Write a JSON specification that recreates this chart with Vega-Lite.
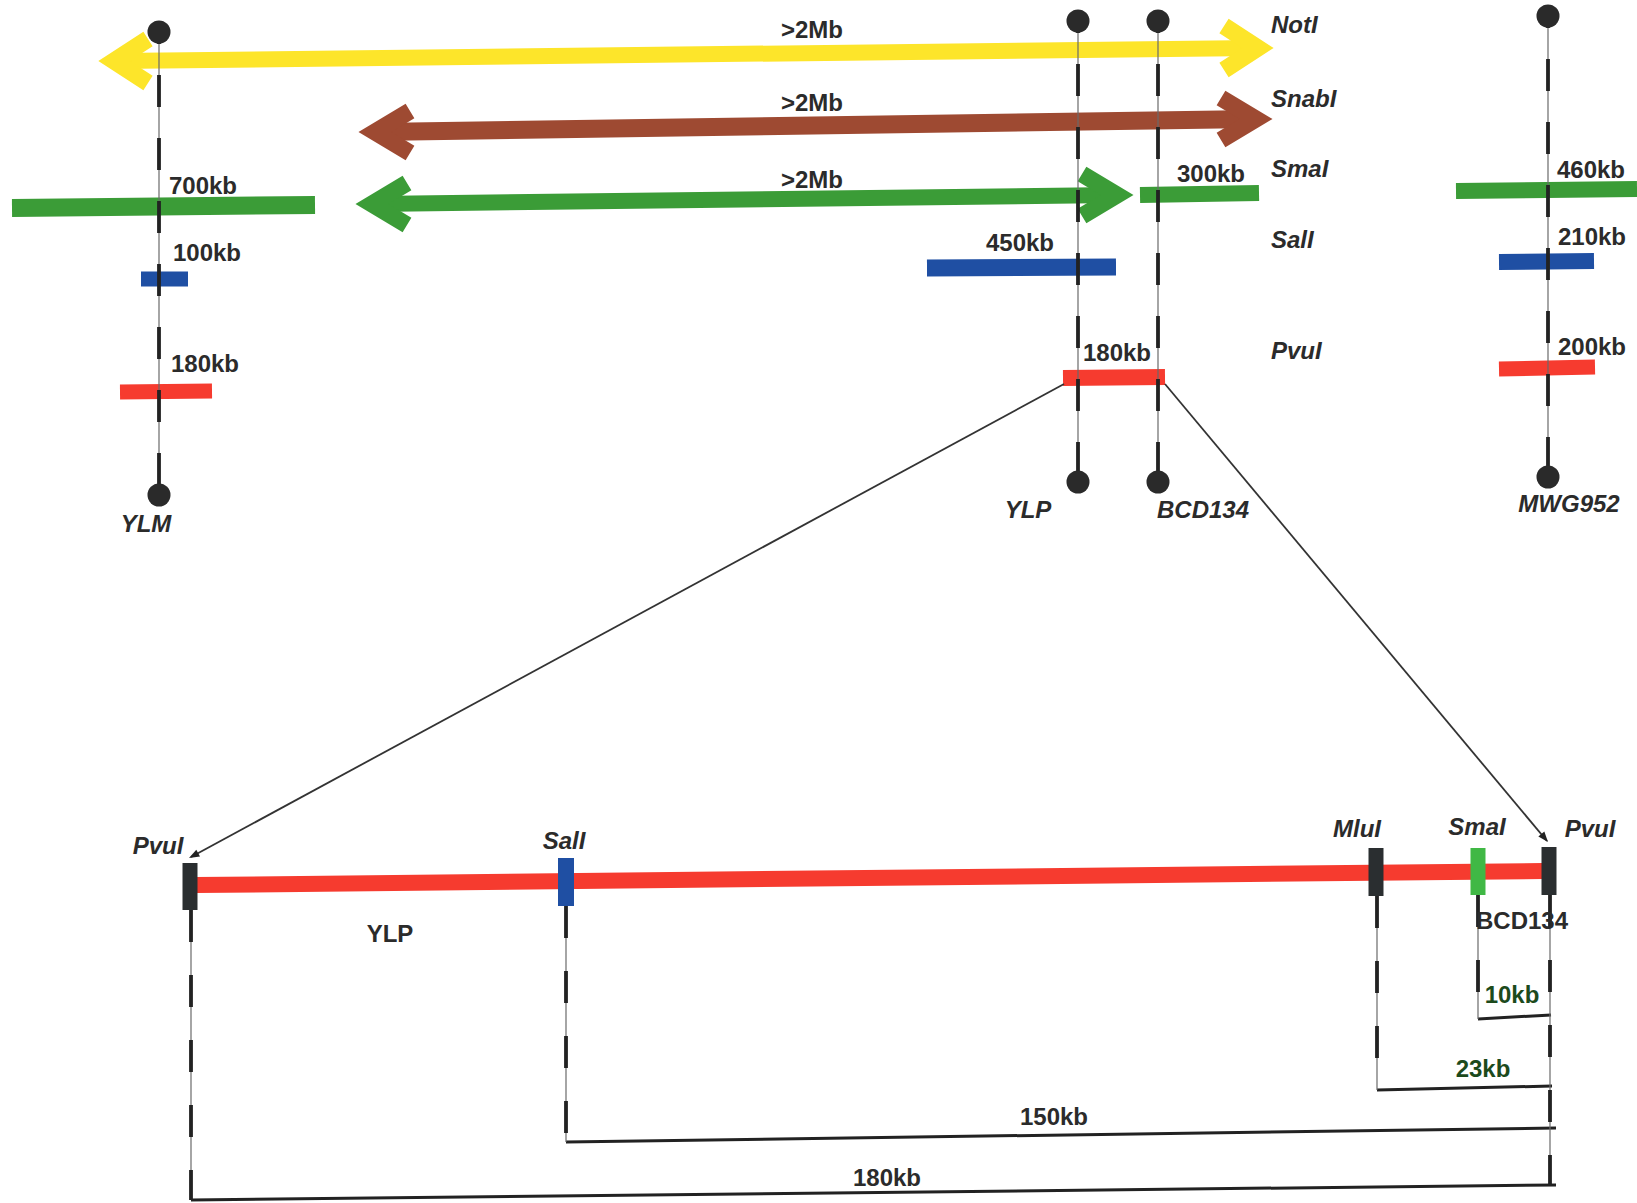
{
  "$schema": "https://vega.github.io/schema/vega-lite/v6.json",
  "width": 1637,
  "height": 1203,
  "padding": 0,
  "autosize": {"type": "none"},
  "background": "white",
  "config": {"view": {"stroke": null}, "axis": {"disable": true}},
  "datasets": {
    "segs": [
      {"x": 12, "y": 208, "x2": 315, "y2": 205, "c": "#3b9c37", "w": 18},
      {"x": 1140, "y": 195, "x2": 1259, "y2": 193, "c": "#3b9c37", "w": 16},
      {"x": 1456, "y": 191, "x2": 1637, "y2": 189, "c": "#3b9c37", "w": 16},
      {"x": 141, "y": 279, "x2": 188, "y2": 279, "c": "#1f4fa3", "w": 15},
      {"x": 927, "y": 268, "x2": 1116, "y2": 267, "c": "#1f4fa3", "w": 17},
      {"x": 1499, "y": 262, "x2": 1594, "y2": 261, "c": "#1f4fa3", "w": 16},
      {"x": 120, "y": 392, "x2": 212, "y2": 391, "c": "#f63b2f", "w": 15},
      {"x": 1063, "y": 378, "x2": 1165, "y2": 377, "c": "#f63b2f", "w": 16},
      {"x": 1499, "y": 369, "x2": 1595, "y2": 367, "c": "#f63b2f", "w": 15},
      {"x": 116, "y": 61, "x2": 1256, "y2": 48, "c": "#fde52a", "w": 16},
      {"x": 377, "y": 132, "x2": 1254, "y2": 119, "c": "#9e4a32", "w": 18},
      {"x": 374, "y": 204, "x2": 1115, "y2": 195, "c": "#3b9c37", "w": 16},
      {"x": 196, "y": 885, "x2": 1543, "y2": 871, "c": "#f63b2f", "w": 16},
      {"x": 190, "y": 863, "x2": 190, "y2": 910, "c": "#2a2e30", "w": 15},
      {"x": 566, "y": 858, "x2": 566, "y2": 906, "c": "#1f4fa3", "w": 16},
      {"x": 1376, "y": 848, "x2": 1376, "y2": 896, "c": "#2a2e30", "w": 15},
      {"x": 1478, "y": 848, "x2": 1478, "y2": 895, "c": "#40b845", "w": 15},
      {"x": 1549, "y": 847, "x2": 1549, "y2": 895, "c": "#2a2e30", "w": 15},
      {"x": 1064, "y": 384, "x2": 191, "y2": 857, "c": "#333333", "w": 1.8},
      {"x": 1165, "y": 384, "x2": 1547, "y2": 841, "c": "#333333", "w": 1.8},
      {"x": 1478, "y": 1019, "x2": 1551, "y2": 1015, "c": "#222222", "w": 3},
      {"x": 1377, "y": 1090, "x2": 1552, "y2": 1086, "c": "#222222", "w": 3},
      {"x": 566, "y": 1142, "x2": 1556, "y2": 1128, "c": "#222222", "w": 3},
      {"x": 191, "y": 1200, "x2": 1556, "y2": 1185, "c": "#222222", "w": 3}
    ],
    "heads": [
      {"id": "yl", "o": 1, "x": 148, "y": 39, "c": "#fde52a"},
      {"id": "yl", "o": 2, "x": 114, "y": 61, "c": "#fde52a"},
      {"id": "yl", "o": 3, "x": 148, "y": 83, "c": "#fde52a"},
      {"id": "yr", "o": 1, "x": 1224, "y": 26, "c": "#fde52a"},
      {"id": "yr", "o": 2, "x": 1258, "y": 48, "c": "#fde52a"},
      {"id": "yr", "o": 3, "x": 1224, "y": 70, "c": "#fde52a"},
      {"id": "bl", "o": 1, "x": 410, "y": 111, "c": "#9e4a32"},
      {"id": "bl", "o": 2, "x": 375, "y": 132, "c": "#9e4a32"},
      {"id": "bl", "o": 3, "x": 410, "y": 153, "c": "#9e4a32"},
      {"id": "br", "o": 1, "x": 1221, "y": 98, "c": "#9e4a32"},
      {"id": "br", "o": 2, "x": 1256, "y": 119, "c": "#9e4a32"},
      {"id": "br", "o": 3, "x": 1221, "y": 140, "c": "#9e4a32"},
      {"id": "gl", "o": 1, "x": 407, "y": 183, "c": "#3b9c37"},
      {"id": "gl", "o": 2, "x": 372, "y": 204, "c": "#3b9c37"},
      {"id": "gl", "o": 3, "x": 407, "y": 225, "c": "#3b9c37"},
      {"id": "gr", "o": 1, "x": 1082, "y": 174, "c": "#3b9c37"},
      {"id": "gr", "o": 2, "x": 1117, "y": 195, "c": "#3b9c37"},
      {"id": "gr", "o": 3, "x": 1082, "y": 216, "c": "#3b9c37"}
    ],
    "vlines": [
      {"x": 159, "y": 32, "y2": 495, "g": "top"},
      {"x": 1078, "y": 21, "y2": 482, "g": "top"},
      {"x": 1158, "y": 21, "y2": 482, "g": "top"},
      {"x": 1548, "y": 16, "y2": 477, "g": "top"},
      {"x": 191, "y": 910, "y2": 1200, "g": "low"},
      {"x": 566, "y": 906, "y2": 1142, "g": "low"},
      {"x": 1377, "y": 896, "y2": 1090, "g": "low"},
      {"x": 1478, "y": 895, "y2": 1019, "g": "low"},
      {"x": 1550, "y": 895, "y2": 1185, "g": "low"}
    ],
    "dots": [
      {"x": 159, "y": 32}, {"x": 159, "y": 495},
      {"x": 1078, "y": 21}, {"x": 1078, "y": 482},
      {"x": 1158, "y": 21}, {"x": 1158, "y": 482},
      {"x": 1548, "y": 16}, {"x": 1548, "y": 477}
    ],
    "tips": [
      {"x": 189, "y": 858, "ang": 241.6},
      {"x": 1548, "y": 842, "ang": 140.1}
    ],
    "italicLeft": [
      {"t": "NotI", "x": 1271, "y": 26},
      {"t": "SnabI", "x": 1271, "y": 100},
      {"t": "SmaI", "x": 1271, "y": 170},
      {"t": "SalI", "x": 1271, "y": 241},
      {"t": "PvuI", "x": 1271, "y": 352}
    ],
    "italicCenter": [
      {"t": "YLM", "x": 146, "y": 525},
      {"t": "YLP", "x": 1028, "y": 511},
      {"t": "BCD134", "x": 1203, "y": 511},
      {"t": "MWG952", "x": 1569, "y": 505},
      {"t": "PvuI", "x": 158, "y": 847},
      {"t": "SalI", "x": 564, "y": 842},
      {"t": "MluI", "x": 1357, "y": 830},
      {"t": "SmaI", "x": 1477, "y": 828},
      {"t": "PvuI", "x": 1590, "y": 830}
    ],
    "bold": [
      {"t": ">2Mb", "x": 812, "y": 31},
      {"t": ">2Mb", "x": 812, "y": 104},
      {"t": ">2Mb", "x": 812, "y": 181},
      {"t": "700kb", "x": 203, "y": 187},
      {"t": "100kb", "x": 207, "y": 254},
      {"t": "180kb", "x": 205, "y": 365},
      {"t": "450kb", "x": 1020, "y": 244},
      {"t": "300kb", "x": 1211, "y": 175},
      {"t": "180kb", "x": 1117, "y": 354},
      {"t": "460kb", "x": 1591, "y": 171},
      {"t": "210kb", "x": 1592, "y": 238},
      {"t": "200kb", "x": 1592, "y": 348},
      {"t": "YLP", "x": 390, "y": 935},
      {"t": "BCD134", "x": 1522, "y": 922},
      {"t": "150kb", "x": 1054, "y": 1118},
      {"t": "180kb", "x": 887, "y": 1179}
    ],
    "greenText": [
      {"t": "10kb", "x": 1512, "y": 996},
      {"t": "23kb", "x": 1483, "y": 1070}
    ]
  },
  "layer": [
    {
      "data": {"name": "segs"},
      "mark": {"type": "rule", "strokeCap": "butt"},
      "encoding": {
        "x": {"field": "x", "type": "quantitative", "scale": {"domain": [0, 1637], "nice": false, "zero": false}, "axis": null},
        "y": {"field": "y", "type": "quantitative", "scale": {"domain": [0, 1203], "nice": false, "zero": false, "reverse": true}, "axis": null},
        "x2": {"field": "x2"},
        "y2": {"field": "y2"},
        "color": {"field": "c", "type": "nominal", "scale": null},
        "strokeWidth": {"field": "w", "type": "quantitative", "scale": null}
      }
    },
    {
      "data": {"name": "heads"},
      "mark": {"type": "line", "strokeWidth": 17, "strokeJoin": "miter", "strokeCap": "butt", "strokeMiterLimit": 10},
      "encoding": {
        "x": {"field": "x", "type": "quantitative", "scale": {"domain": [0, 1637], "nice": false, "zero": false}, "axis": null},
        "y": {"field": "y", "type": "quantitative", "scale": {"domain": [0, 1203], "nice": false, "zero": false, "reverse": true}, "axis": null},
        "detail": {"field": "id"},
        "order": {"field": "o", "type": "quantitative"},
        "color": {"field": "c", "type": "nominal", "scale": null}
      }
    },
    {
      "data": {"name": "vlines"},
      "mark": {"type": "rule", "strokeWidth": 1.2, "color": "#6a6a6a"},
      "encoding": {
        "x": {"field": "x", "type": "quantitative", "scale": {"domain": [0, 1637], "nice": false, "zero": false}, "axis": null},
        "y": {"field": "y", "type": "quantitative", "scale": {"domain": [0, 1203], "nice": false, "zero": false, "reverse": true}, "axis": null},
        "y2": {"field": "y2"}
      }
    },
    {
      "data": {"name": "vlines"},
      "transform": [{"filter": "datum.g === 'top'"}],
      "mark": {"type": "rule", "strokeWidth": 3.8, "color": "#222222", "strokeDash": [32, 31], "strokeDashOffset": 20, "strokeCap": "butt"},
      "encoding": {
        "x": {"field": "x", "type": "quantitative", "scale": {"domain": [0, 1637], "nice": false, "zero": false}, "axis": null},
        "y": {"field": "y", "type": "quantitative", "scale": {"domain": [0, 1203], "nice": false, "zero": false, "reverse": true}, "axis": null},
        "y2": {"field": "y2"}
      }
    },
    {
      "data": {"name": "vlines"},
      "transform": [{"filter": "datum.g === 'low'"}],
      "mark": {"type": "rule", "strokeWidth": 3.8, "color": "#222222", "strokeDash": [32, 33], "strokeCap": "butt"},
      "encoding": {
        "x": {"field": "x", "type": "quantitative", "scale": {"domain": [0, 1637], "nice": false, "zero": false}, "axis": null},
        "y": {"field": "y", "type": "quantitative", "scale": {"domain": [0, 1203], "nice": false, "zero": false, "reverse": true}, "axis": null},
        "y2": {"field": "y2"}
      }
    },
    {
      "data": {"name": "dots"},
      "mark": {"type": "point", "shape": "circle", "filled": true, "size": 530, "color": "#2a2a2a", "opacity": 1},
      "encoding": {
        "x": {"field": "x", "type": "quantitative", "scale": {"domain": [0, 1637], "nice": false, "zero": false}, "axis": null},
        "y": {"field": "y", "type": "quantitative", "scale": {"domain": [0, 1203], "nice": false, "zero": false, "reverse": true}, "axis": null}
      }
    },
    {
      "data": {"name": "tips"},
      "mark": {"type": "point", "shape": "M0,0L0.45,1.2L-0.45,1.2Z", "filled": true, "size": 300, "color": "#222222", "opacity": 1},
      "encoding": {
        "x": {"field": "x", "type": "quantitative", "scale": {"domain": [0, 1637], "nice": false, "zero": false}, "axis": null},
        "y": {"field": "y", "type": "quantitative", "scale": {"domain": [0, 1203], "nice": false, "zero": false, "reverse": true}, "axis": null},
        "angle": {"field": "ang", "type": "quantitative", "scale": null}
      }
    },
    {
      "data": {"name": "italicLeft"},
      "mark": {"type": "text", "font": "Liberation Sans", "fontSize": 24, "fontWeight": "bold", "fontStyle": "italic", "align": "left", "baseline": "middle", "color": "#2b2b2b"},
      "encoding": {
        "x": {"field": "x", "type": "quantitative", "scale": {"domain": [0, 1637], "nice": false, "zero": false}, "axis": null},
        "y": {"field": "y", "type": "quantitative", "scale": {"domain": [0, 1203], "nice": false, "zero": false, "reverse": true}, "axis": null},
        "text": {"field": "t"}
      }
    },
    {
      "data": {"name": "italicCenter"},
      "mark": {"type": "text", "font": "Liberation Sans", "fontSize": 24, "fontWeight": "bold", "fontStyle": "italic", "align": "center", "baseline": "middle", "color": "#2b2b2b"},
      "encoding": {
        "x": {"field": "x", "type": "quantitative", "scale": {"domain": [0, 1637], "nice": false, "zero": false}, "axis": null},
        "y": {"field": "y", "type": "quantitative", "scale": {"domain": [0, 1203], "nice": false, "zero": false, "reverse": true}, "axis": null},
        "text": {"field": "t"}
      }
    },
    {
      "data": {"name": "bold"},
      "mark": {"type": "text", "font": "Liberation Sans", "fontSize": 24, "fontWeight": "bold", "align": "center", "baseline": "middle", "color": "#2b2b2b"},
      "encoding": {
        "x": {"field": "x", "type": "quantitative", "scale": {"domain": [0, 1637], "nice": false, "zero": false}, "axis": null},
        "y": {"field": "y", "type": "quantitative", "scale": {"domain": [0, 1203], "nice": false, "zero": false, "reverse": true}, "axis": null},
        "text": {"field": "t"}
      }
    },
    {
      "data": {"name": "greenText"},
      "mark": {"type": "text", "font": "Liberation Sans", "fontSize": 24, "fontWeight": "bold", "align": "center", "baseline": "middle", "color": "#1c4a1c"},
      "encoding": {
        "x": {"field": "x", "type": "quantitative", "scale": {"domain": [0, 1637], "nice": false, "zero": false}, "axis": null},
        "y": {"field": "y", "type": "quantitative", "scale": {"domain": [0, 1203], "nice": false, "zero": false, "reverse": true}, "axis": null},
        "text": {"field": "t"}
      }
    }
  ]
}
